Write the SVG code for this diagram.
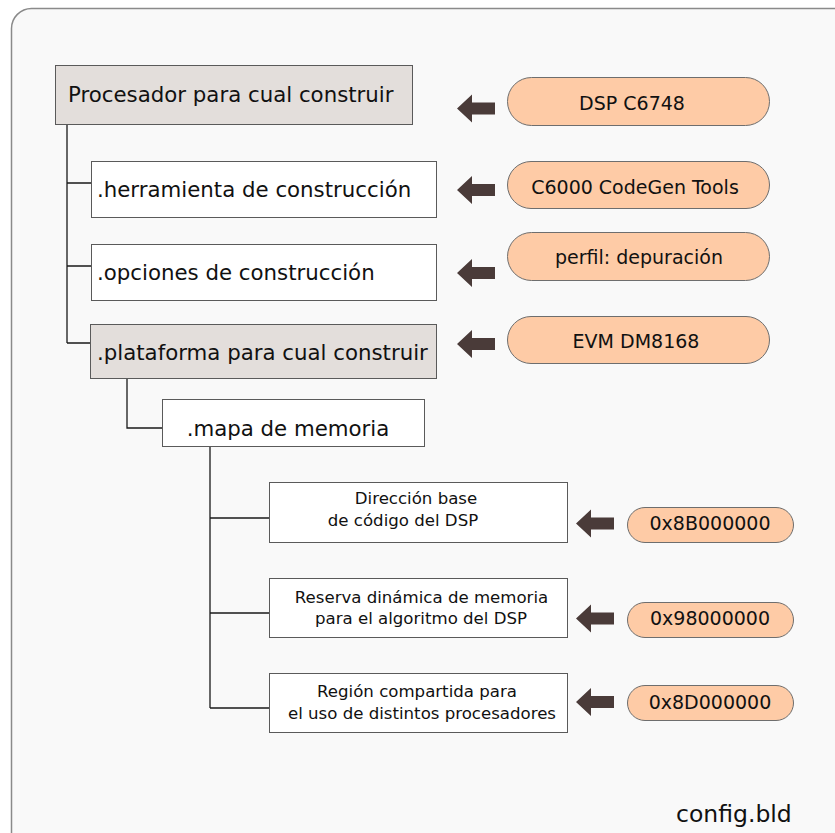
<svg xmlns="http://www.w3.org/2000/svg" width="835" height="833" viewBox="0 0 835 833">
  <defs>
    <style>
      .frame { fill: #f9f9f9; stroke: #8a8a8a; stroke-width: 1.5; }
      .box { fill: #ffffff; stroke: #5a5a5a; stroke-width: 1; }
      .box.hl { fill: #e3dedb; }
      .pill { fill: #fecba6; stroke: #6e6e6e; stroke-width: 1; }
      .link { fill: none; stroke: #1a1a1a; stroke-width: 1.3; }
      .arrow { fill: #4a3b39; }
      text { font-family: "DejaVu Sans", "Liberation Sans", sans-serif; fill: #111111; }
      .big { font-size: 21.3px; }
      .mid { font-size: 19px; }
      .small { font-size: 16.6px; }
      .c { text-anchor: middle; }
    </style>
    <path id="arr" d="M0,0 L15,-14 L15,-6 L38,-6 L38,6 L15,6 L15,14 Z"/>
  </defs>

  <!-- container -->
  <rect class="frame" x="11.5" y="8.5" width="860" height="860" rx="20" ry="20"/>

  <!-- tree connectors -->
  <g id="connectors">
    <path class="link" d="M67,125 V343 M67,183 H91 M67,266 H91 M67,343 H90"/>
    <path class="link" d="M127,378 V428 H162"/>
    <path class="link" d="M210,446 V708 M210,518 H269 M210,613 H269 M210,708 H269"/>
  </g>

  <!-- value arrows -->
  <g id="arrows" class="arrow">
    <use href="#arr" x="457" y="108.5"/>
    <use href="#arr" x="457" y="190"/>
    <use href="#arr" x="457" y="273"/>
    <use href="#arr" x="457" y="344"/>
    <use href="#arr" x="576" y="523.5"/>
    <use href="#arr" x="576" y="618.5"/>
    <use href="#arr" x="576" y="702"/>
  </g>

  <!-- tree nodes -->
  <g id="procesador">
    <rect class="box hl" x="55.5" y="65.5" width="357" height="59"/>
    <text class="big" x="68" y="101.5">Procesador para cual construir</text>
  </g>
  <g id="herramienta">
    <rect class="box" x="91.5" y="161.5" width="345" height="56"/>
    <text class="big" x="97" y="197">.herramienta de construcción</text>
  </g>
  <g id="opciones">
    <rect class="box" x="91.5" y="244.5" width="345" height="56"/>
    <text class="big" x="97" y="280">.opciones de construcción</text>
  </g>
  <g id="plataforma">
    <rect class="box hl" x="90.5" y="324.5" width="346" height="54"/>
    <text class="big" x="97" y="360">.plataforma para cual construir</text>
  </g>
  <g id="mapa">
    <rect class="box" x="162.5" y="399.5" width="262" height="47"/>
    <text class="big c" x="288" y="436">.mapa de memoria</text>
  </g>
  <g id="codigo">
    <rect class="box" x="269.5" y="482.5" width="298" height="60"/>
    <text class="small c" x="416" y="503.5">Dirección base</text>
    <text class="small c" x="403" y="526">de código del DSP</text>
  </g>
  <g id="reserva">
    <rect class="box" x="269.5" y="578.5" width="298" height="59"/>
    <text class="small c" x="421.5" y="602.5">Reserva dinámica de memoria</text>
    <text class="small c" x="421" y="624">para el algoritmo del DSP</text>
  </g>
  <g id="region">
    <rect class="box" x="269.5" y="673.5" width="298" height="59"/>
    <text class="small c" x="417" y="696.5">Región compartida para</text>
    <text class="small c" x="422" y="718.5">el uso de distintos procesadores</text>
  </g>

  <!-- values -->
  <g id="val-dsp">
    <rect class="pill" x="507.5" y="77.5" width="262" height="48" rx="24" ry="24"/>
    <text class="mid c" x="632" y="110">DSP C6748</text>
  </g>
  <g id="val-tools">
    <rect class="pill" x="507.5" y="161.5" width="262" height="47" rx="23.5" ry="23.5"/>
    <text class="mid c" x="635" y="193.5">C6000 CodeGen Tools</text>
  </g>
  <g id="val-perfil">
    <rect class="pill" x="507.5" y="232.5" width="262" height="48" rx="24" ry="24"/>
    <text class="mid c" x="639" y="264">perfil: depuración</text>
  </g>
  <g id="val-evm">
    <rect class="pill" x="507.5" y="316.5" width="262" height="47" rx="23.5" ry="23.5"/>
    <text class="mid c" x="636" y="347.5">EVM DM8168</text>
  </g>
  <g id="val-8b">
    <rect class="pill" x="627.5" y="507.5" width="166" height="35" rx="17.5" ry="17.5"/>
    <text class="mid c" x="710" y="530">0x8B000000</text>
  </g>
  <g id="val-98">
    <rect class="pill" x="627.5" y="602.5" width="166" height="35" rx="17.5" ry="17.5"/>
    <text class="mid c" x="710" y="625">0x98000000</text>
  </g>
  <g id="val-8d">
    <rect class="pill" x="627.5" y="685.5" width="166" height="35" rx="17.5" ry="17.5"/>
    <text class="mid c" x="710" y="708.5">0x8D000000</text>
  </g>

  <text x="676" y="822" style="font-size:23.5px">config.bld</text>
</svg>
